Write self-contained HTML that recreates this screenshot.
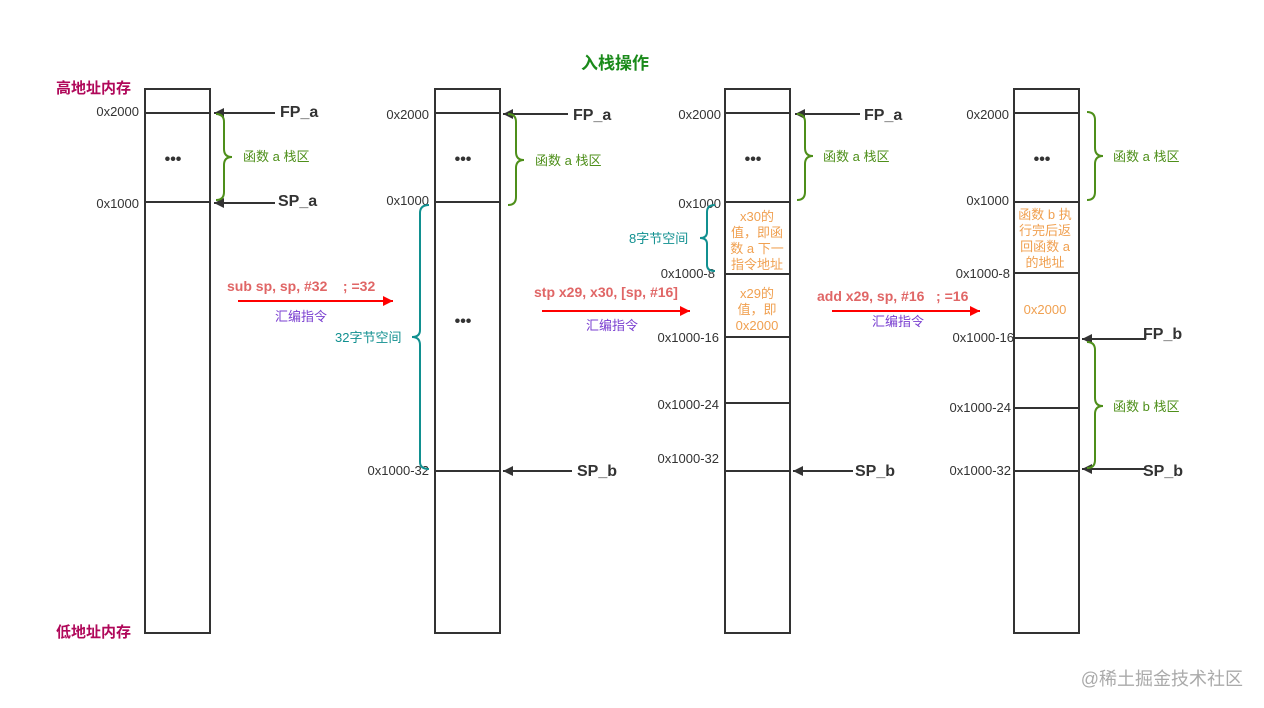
<!DOCTYPE html>
<html><head><meta charset="utf-8"><style>
html,body{margin:0;padding:0;background:#fff;}
svg{display:block;font-family:"Liberation Sans","Noto Sans CJK SC",sans-serif;}
</style></head><body>
<svg width="1264" height="708" viewBox="0 0 1264 708" xmlns="http://www.w3.org/2000/svg">
<defs>
<marker id="ah" viewBox="0 0 10 10" refX="10" refY="5" markerWidth="14" markerHeight="10" markerUnits="userSpaceOnUse" orient="auto"><path d="M0,0 L10,5 L0,10 z" fill="#333"/></marker>
<marker id="rh" viewBox="0 0 10 10" refX="10" refY="5" markerWidth="14" markerHeight="10" markerUnits="userSpaceOnUse" orient="auto"><path d="M0,0 L10,5 L0,10 z" fill="#f00"/></marker>
</defs>
<text x="615" y="69" font-size="17" font-weight="bold" fill="#1a8a1a" text-anchor="middle">入栈操作</text>
<text x="56" y="93" font-size="15" font-weight="bold" fill="#b0085a">高地址内存</text>
<text x="56" y="637" font-size="15" font-weight="bold" fill="#b0085a">低地址内存</text>
<text x="1243" y="685" font-size="18" fill="#aaa" text-anchor="end">@稀土掘金技术社区</text>

<g stroke="#333" stroke-width="2" fill="none">
<rect x="145" y="89" width="65" height="544"/>
<rect x="435" y="89" width="65" height="544"/>
<rect x="725" y="89" width="65" height="544"/>
<rect x="1014" y="89" width="65" height="544"/>
<path d="M145 113H210M145 202H210"/>
<path d="M435 113H500M435 202H500M435 471H500"/>
<path d="M725 113H790M725 202H790M725 274H790M725 337H790M725 403H790M725 471H790"/>
<path d="M1014 113H1079M1014 202H1079M1014 273H1079M1014 338H1079M1014 408H1079M1014 471H1079"/>
</g>

<g font-size="13" fill="#333" text-anchor="end">
<text x="139" y="116">0x2000</text><text x="139" y="208">0x1000</text>
<text x="429" y="119">0x2000</text><text x="429" y="205">0x1000</text><text x="429" y="475">0x1000-32</text>
<text x="721" y="119">0x2000</text><text x="721" y="208">0x1000</text><text x="715" y="278">0x1000-8</text><text x="719" y="342">0x1000-16</text><text x="719" y="409">0x1000-24</text><text x="719" y="463">0x1000-32</text>
<text x="1009" y="119">0x2000</text><text x="1009" y="205">0x1000</text><text x="1010" y="278">0x1000-8</text><text x="1014" y="342">0x1000-16</text><text x="1011" y="412">0x1000-24</text><text x="1011" y="475">0x1000-32</text>
</g>
<g font-size="16" font-weight="bold" fill="#333" text-anchor="middle">
<text x="173" y="164">•••</text><text x="463" y="164">•••</text><text x="753" y="164">•••</text><text x="1042" y="164">•••</text><text x="463" y="326">•••</text>
</g>

<g stroke="#333" stroke-width="2" marker-end="url(#ah)">
<line x1="275" y1="113" x2="214" y2="113"/><line x1="275" y1="203" x2="214" y2="203"/>
<line x1="568" y1="114" x2="503" y2="114"/><line x1="572" y1="471" x2="503" y2="471"/>
<line x1="860" y1="114" x2="795" y2="114"/><line x1="853" y1="471" x2="793" y2="471"/>
<line x1="1146" y1="339" x2="1082" y2="339"/><line x1="1145" y1="469" x2="1082" y2="469"/>
</g>
<g font-size="16" font-weight="bold" fill="#333">
<text x="280" y="117">FP_a</text><text x="278" y="206">SP_a</text>
<text x="573" y="120">FP_a</text><text x="577" y="476">SP_b</text>
<text x="864" y="120">FP_a</text><text x="855" y="476">SP_b</text>
<text x="1143" y="339">FP_b</text><text x="1143" y="476">SP_b</text>
</g>

<!-- green braces -->
<g stroke="#4e8f1a" stroke-width="2" fill="none">
<path d="M216 114Q224 114 224 122V149Q224 157 232 157Q224 157 224 165V192Q224 200 216 200"/>
<path d="M508 114Q516 114 516 122V152Q516 160 524 160Q516 160 516 168V197Q516 205 508 205"/>
<path d="M797 114Q805 114 805 122V148Q805 156 813 156Q805 156 805 164V192Q805 200 797 200"/>
<path d="M1087 112Q1095 112 1095 120V148Q1095 156 1103 156Q1095 156 1095 164V192Q1095 200 1087 200"/>
<path d="M1087 342Q1095 342 1095 350V398Q1095 406 1103 406Q1095 406 1095 414V460Q1095 468 1087 468"/>
</g>
<g font-size="13" fill="#4e8f1a">
<text x="243" y="161">函数 a 栈区</text><text x="535" y="165">函数 a 栈区</text><text x="823" y="161">函数 a 栈区</text><text x="1113" y="161">函数 a 栈区</text><text x="1113" y="411">函数 b 栈区</text>
</g>
<!-- teal braces -->
<g stroke="#119090" stroke-width="2" fill="none">
<path d="M429 205Q420 205 420 213V330Q420 337 412 337Q420 337 420 345V462Q420 469 429 469"/>
<path d="M715 205Q707 205 707 212V232Q707 238 700 238Q707 238 707 244V265Q707 271 715 271"/>
</g>
<g font-size="13" fill="#119090"><text x="335" y="342">32字节空间</text><text x="629" y="243">8字节空间</text></g>

<!-- instructions -->
<g stroke="#f00" stroke-width="2"><line x1="238" y1="301" x2="393" y2="301" marker-end="url(#rh)"/><line x1="542" y1="311" x2="690" y2="311" marker-end="url(#rh)"/><line x1="832" y1="311" x2="980" y2="311" marker-end="url(#rh)"/></g>
<g font-size="14" font-weight="bold" fill="#e06666">
<text x="227" y="291">sub sp, sp, #32 &#160;&#160;&#160;; =32</text>
<text x="534" y="297">stp x29, x30, [sp, #16]</text>
<text x="817" y="301">add x29, sp, #16 &#160;&#160;; =16</text>
</g>
<g font-size="13" fill="#7a3fd0" text-anchor="middle"><text x="301" y="321">汇编指令</text><text x="612" y="330">汇编指令</text><text x="898" y="326">汇编指令</text></g>

<!-- orange cell text -->
<g font-size="13" fill="#f0a050" text-anchor="middle">
<text x="757" y="221">x30的</text><text x="757" y="237">值，即函</text><text x="757" y="253">数 a 下一</text><text x="757" y="269">指令地址</text>
<text x="757" y="298">x29的</text><text x="757" y="314">值，即</text><text x="757" y="330">0x2000</text>
<text x="1045" y="219">函数 b 执</text><text x="1045" y="235">行完后返</text><text x="1045" y="251">回函数 a</text><text x="1045" y="267">的地址</text>
<text x="1045" y="314">0x2000</text>
</g>
</svg>
</body></html>
